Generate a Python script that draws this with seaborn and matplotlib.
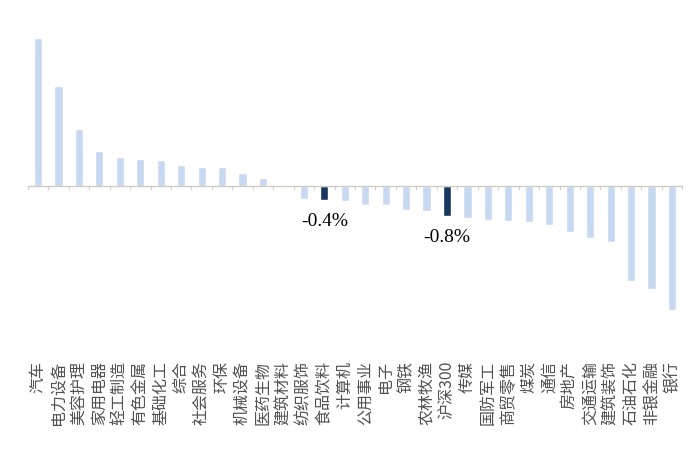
import matplotlib
matplotlib.use("Agg")
import matplotlib.pyplot as plt
import seaborn as sns
import pandas as pd
import numpy as np

categories = ["汽车", "电力设备", "美容护理", "家用电器", "轻工制造", "有色金属", "基础化工", "综合",
              "社会服务", "环保", "机械设备", "医药生物", "建筑材料", "纺织服饰", "食品饮料", "计算机",
              "公用事业", "电子", "钢铁", "农林牧渔", "沪深300", "传媒", "国防军工", "商贸零售",
              "煤炭", "通信", "房地产", "交通运输", "建筑装饰", "石油石化", "非银金融", "银行"]
values = [3.99, 2.70, 1.53, 0.93, 0.77, 0.73, 0.70, 0.56,
          0.51, 0.51, 0.33, 0.21, 0.0, -0.36, -0.40, -0.42,
          -0.52, -0.52, -0.65, -0.68, -0.83, -0.87, -0.94, -0.96,
          -0.98, -1.05, -1.25, -1.42, -1.52, -2.57, -2.78, -3.35]
highlight = ["食品饮料", "沪深300"]
annot = {"食品饮料": "-0.4%", "沪深300": "-0.8%"}

sns.set_theme(style="white")
plt.rcParams['font.family'] = ['Noto Sans CJK SC', 'DejaVu Sans']

light = "#C6D9F1"
dark = "#17375E"
df = pd.DataFrame({"cat": categories, "val": values})
palette = {c: (dark if c in highlight else light) for c in categories}

fig = plt.figure(figsize=(7, 4.49), dpi=100)
ax = fig.add_axes([27.8 / 700, 1 - 355 / 449, (682.2 - 27.8) / 700, 325 / 449])
sns.barplot(data=df, x="cat", y="val", hue="cat", palette=palette, width=0.4,
            legend=False, ax=ax, saturation=1)

ax.set_xlim(-0.5, len(categories) - 0.5)
ax.set_ylim(-4.57, 4.2)
for s in ax.spines.values():
    s.set_visible(False)
ax.set_yticks([])
ax.set_xlabel("")
ax.set_ylabel("")

# zero axis line with boundary ticks
axis_col = "#D0CCC4"
ax.axhline(0, color=axis_col, lw=1.0, zorder=3)
for b in np.arange(-0.5, len(categories) + 0.5, 1):
    ax.plot([b, b], [0, -0.08], color=axis_col, lw=0.8, zorder=3, clip_on=False)

ax.set_xticks(range(len(categories)))
ax.set_xticklabels(categories, rotation=90, fontsize=11.5, color="#505050", va="top", ha="center")
ax.tick_params(axis="x", length=0, pad=4)

for i, c in enumerate(categories):
    if c in annot:
        ax.annotate(annot[c], xy=(i, values[i]), xytext=(0, -15), textcoords="offset points",
                    ha="center", va="center", fontsize=14, family="Liberation Serif", color="#000000")

fig.savefig("out.png", dpi=100)
